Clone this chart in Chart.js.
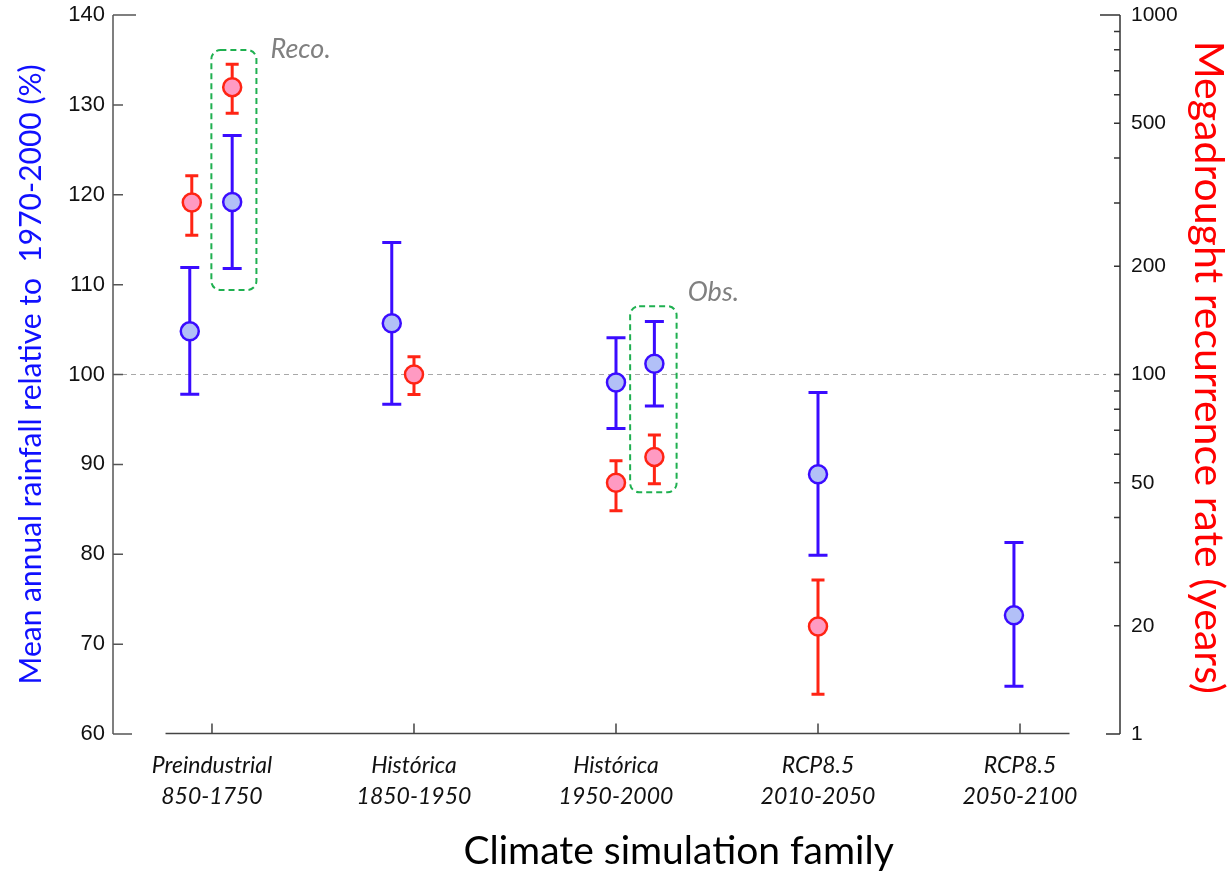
<!DOCTYPE html>
<html>
<head>
<meta charset="utf-8">
<script src="https://cdn.jsdelivr.net/npm/chart.js@4.4.1/dist/chart.umd.min.js"></script>
<style>
html,body{margin:0;padding:0;background:#fff;}
#wrap{width:1231px;height:871px;position:relative;}
</style>
</head>
<body>
<div id="wrap"><canvas id="rainChart"></canvas></div>
<script>

// x categories, two lines each
const categories = [
  ["Preindustrial", "850-1750"],
  ["Histórica", "1850-1950"],
  ["Histórica", "1950-2000"],
  ["RCP8.5", "2010-2050"],
  ["RCP8.5", "2050-2100"]
];

// mean annual rainfall (%), left axis
const rainPos  = [-0.11, 0.10, 0.89, 2.00, 2.19, 3.00, 3.97];
const rainMean = [104.8, 119.2, 105.7, 99.1, 101.2, 88.9, 73.2];
const rainLow  = [97.8, 111.8, 96.7, 94.0, 96.5, 79.9, 65.3];
const rainHigh = [111.9, 126.6, 114.7, 104.1, 105.9, 98.0, 81.3];

// megadrought recurrence (years), right log axis
const droughtPos  = [-0.10, 0.10, 1.00, 2.00, 2.19, 3.00];
const droughtMean = [301, 630, 100, 50, 59, 19.9];
const droughtLow  = [244, 533, 88, 41.8, 49.7, 12.9];
const droughtHigh = [357, 730, 112, 57.6, 67.9, 26.8];

// tick values / labels
const rainTicks = [60, 70, 80, 90, 100, 110, 120, 130, 140];
const droughtTicks = [10, 20, 30, 40, 50, 60, 70, 80, 90, 100, 200, 300, 400, 500, 600, 700, 800, 900, 1000];
const droughtLabels = {10: "1", 20: "20", 50: "50", 100: "100", 200: "200", 500: "500", 1000: "1000"};

const BLUE = "#3a0cff";
const RED = "#ff2414";
const GREEN = "#1fb050";


/*
=========================
DECORATION PLUGIN
=========================
*/

const decor = {
  id: "decor",

  beforeDatasetsDraw(chart) {
    const ctx = chart.ctx;
    const xs = chart.scales.x;
    const ys = chart.scales.y;
    const yr = chart.scales.y2;
    const area = chart.chartArea;

    ctx.save();

    // dashed reference line at 100
    const y100 = yr.getPixelForValue(100);
    ctx.strokeStyle = "#a8a8a8";
    ctx.lineWidth = 1;
    ctx.setLineDash([5, 4]);
    ctx.beginPath();
    ctx.moveTo(area.left, y100);
    ctx.lineTo(area.right - 14, y100);
    ctx.stroke();
    ctx.setLineDash([]);

    // error bars
    function bars(pos, low, high, scale, color, lw, cap) {
      ctx.strokeStyle = color;
      ctx.lineWidth = lw;
      ctx.lineCap = "butt";
      pos.forEach((p, i) => {
        const x = xs.getPixelForValue(p);
        const y1 = scale.getPixelForValue(low[i]);
        const y2 = scale.getPixelForValue(high[i]);
        ctx.beginPath();
        ctx.moveTo(x, y1);
        ctx.lineTo(x, y2);
        ctx.moveTo(x - cap, y1);
        ctx.lineTo(x + cap, y1);
        ctx.moveTo(x - cap, y2);
        ctx.lineTo(x + cap, y2);
        ctx.stroke();
      });
    }

    bars(rainPos, rainLow, rainHigh, ys, BLUE, 3, 9.5);
    bars(droughtPos, droughtLow, droughtHigh, yr, RED, 3, 6.5);

    ctx.restore();
  },

  afterDraw(chart) {
    const ctx = chart.ctx;
    const xs = chart.scales.x;
    const ys = chart.scales.y;
    const yr = chart.scales.y2;
    const area = chart.chartArea;

    ctx.save();

    // left axis
    ctx.strokeStyle = "#555";
    ctx.lineWidth = 1.5;
    ctx.beginPath();
    ctx.moveTo(area.left, ys.getPixelForValue(140));
    ctx.lineTo(area.left, ys.getPixelForValue(60));
    rainTicks.forEach(v => {
      const y = ys.getPixelForValue(v);
      let len = 10;
      if (v === 140) len = 23;
      if (v === 60) len = 19;
      ctx.moveTo(area.left, y);
      ctx.lineTo(area.left + len, y);
    });
    ctx.stroke();

    // right axis
    ctx.strokeStyle = "#333";
    ctx.beginPath();
    ctx.moveTo(area.right, yr.getPixelForValue(1000));
    ctx.lineTo(area.right, yr.getPixelForValue(10));
    droughtTicks.forEach(v => {
      const y = yr.getPixelForValue(v);
      let len = 6;
      if (v === 1000) len = 20;
      if (v === 10) len = 14;
      ctx.moveTo(area.right, y);
      ctx.lineTo(area.right - len, y);
    });
    ctx.stroke();

    // bottom axis
    ctx.strokeStyle = "#444";
    const yb = area.bottom - 0.5;
    ctx.beginPath();
    ctx.moveTo(xs.getPixelForValue(-0.23), yb);
    ctx.lineTo(xs.getPixelForValue(4.245), yb);
    categories.forEach((c, i) => {
      const x = xs.getPixelForValue(i);
      ctx.moveTo(x, yb);
      ctx.lineTo(x, yb - 10);
    });
    ctx.stroke();

    // x axis title, sits right of the plot centre
    ctx.fillStyle = "#000";
    ctx.font = "39px Lato";
    ctx.textAlign = "center";
    ctx.textBaseline = "middle";
    ctx.fillText("Climate simulation family", xs.getPixelForValue(2.31), 851);

    // right axis title, rotated clockwise
    ctx.save();
    ctx.translate(1208.5, ys.getPixelForValue(100.8));
    ctx.rotate(Math.PI / 2);
    ctx.fillStyle = "#ff0000";
    ctx.font = "41px Lato";
    ctx.textAlign = "center";
    ctx.textBaseline = "middle";
    ctx.fillText("Megadrought recurrence rate (years)", 0, 0);
    ctx.restore();

    // dashed green boxes
    function box(x1, x2, v1, v2) {
      const left = xs.getPixelForValue(x1);
      const right = xs.getPixelForValue(x2);
      const top = ys.getPixelForValue(v2);
      const bottom = ys.getPixelForValue(v1);
      ctx.strokeStyle = GREEN;
      ctx.lineWidth = 2;
      ctx.setLineDash([6, 4]);
      ctx.beginPath();
      ctx.roundRect(left, top, right - left, bottom - top, 9);
      ctx.stroke();
      ctx.setLineDash([]);
    }

    box(-0.003, 0.22, 109.4, 136.1);
    box(2.07, 2.30, 86.9, 107.6);

    // notes
    ctx.fillStyle = "#808080";
    ctx.font = "italic 27px Lato";
    ctx.textAlign = "left";
    ctx.textBaseline = "middle";
    ctx.fillText("Reco.", xs.getPixelForValue(0.29), ys.getPixelForValue(136.2));
    ctx.fillText("Obs.", xs.getPixelForValue(2.355), ys.getPixelForValue(109.1));

    ctx.restore();
  }
};


/*
=========================
CHART
=========================
*/

Chart.defaults.font.family = "Lato";
Chart.defaults.color = "#111";

// vertical scales: fixed width, no extra label padding on top/bottom
function fixWidth(w) {
  return s => {
    s.width = w;
    s.paddingTop = 0;
    s.paddingBottom = 0;
  };
}

const ctx = document.getElementById("rainChart");

const chart = new Chart(ctx, {

  type: "scatter",

  data: {
    datasets: [
      {
        label: "Rainfall",
        data: rainPos.map((p, i) => ({x: p, y: rainMean[i]})),
        yAxisID: "y",
        pointRadius: 9,
        pointHoverRadius: 9,
        pointBorderWidth: 2.5,
        pointBackgroundColor: "#b2c0f7",
        pointBorderColor: BLUE
      },
      {
        label: "Megadrought",
        data: droughtPos.map((p, i) => ({x: p, y: droughtMean[i]})),
        yAxisID: "y2",
        pointRadius: 9,
        pointHoverRadius: 9,
        pointBorderWidth: 2.5,
        pointBackgroundColor: "#ff9ac2",
        pointBorderColor: RED
      }
    ]
  },

  options: {
    responsive: true,
    maintainAspectRatio: false,
    animation: false,
    layout: {padding: {top: 15, left: 0, right: 0, bottom: 0}},
    plugins: {
      legend: {display: false},
      tooltip: {enabled: false}
    },
    scales: {
      x: {
        type: "linear",
        position: "bottom",
        min: -0.49,
        max: 4.495,
        afterBuildTicks: s => { s.ticks = categories.map((c, i) => ({value: i})); },
        afterFit: s => { s.height = 137; },
        grid: {display: false, drawTicks: false},
        border: {display: false},
        ticks: {
          autoSkip: false,
          maxRotation: 0,
          padding: 16,
          color: "#111",
          font: {size: 23, style: "italic", lineHeight: 1.35},
          callback: v => categories[Math.round(v)]
        }
      },
      y: {
        type: "linear",
        position: "left",
        min: 60,
        max: 140,
        afterBuildTicks: s => { s.ticks = rainTicks.map(v => ({value: v})); },
        afterFit: fixWidth(113),
        grid: {display: false, drawTicks: false},
        border: {display: false},
        ticks: {
          padding: 8,
          color: "#111",
          font: {family: "Liberation Sans", size: 22}
        },
        title: {
          display: true,
          text: "Mean annual rainfall relative to  1970-2000 (%)",
          color: "#1010ff",
          font: {size: 30, lineHeight: 1.2},
          padding: {top: 13, bottom: 0}
        }
      },
      y2: {
        type: "logarithmic",
        position: "right",
        min: 10,
        max: 1000,
        afterBuildTicks: s => { s.ticks = droughtTicks.map(v => ({value: v})); },
        afterFit: fixWidth(111),
        grid: {display: false, drawTicks: false},
        border: {display: false},
        ticks: {
          autoSkip: false,
          padding: 11,
          color: "#111",
          font: {family: "Liberation Sans", size: 21},
          callback: v => droughtLabels[v] || ""
        }
      }
    }
  },

  plugins: [decor]

});

</script>
</body>
</html>
